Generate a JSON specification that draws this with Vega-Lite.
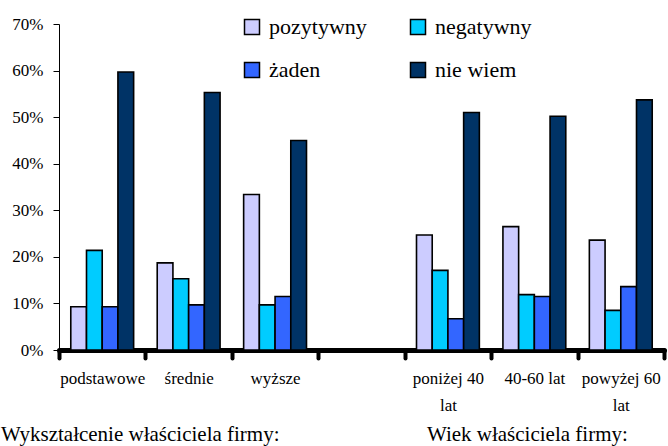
{
  "$schema": "https://vega.github.io/schema/vega-lite/v6.json",
  "width": 605,
  "height": 326,
  "autosize": {"type": "none"},
  "padding": {"left": 59, "top": 24, "right": 4, "bottom": 96},
  "background": "white",
  "config": {
    "view": {"stroke": null},
    "font": "Liberation Serif",
    "axis": {"labelFont": "Liberation Serif"},
    "legend": {"labelFont": "Liberation Serif"},
    "text": {"font": "Liberation Serif"}
  },
  "datasets": {
    "bars": [
      {"kategoria": "podstawowe", "odpowiedz": "pozytywny", "wartosc": 0.093},
      {"kategoria": "podstawowe", "odpowiedz": "negatywny", "wartosc": 0.214},
      {"kategoria": "podstawowe", "odpowiedz": "żaden", "wartosc": 0.093},
      {"kategoria": "podstawowe", "odpowiedz": "nie wiem", "wartosc": 0.597},
      {"kategoria": "średnie", "odpowiedz": "pozytywny", "wartosc": 0.187},
      {"kategoria": "średnie", "odpowiedz": "negatywny", "wartosc": 0.153},
      {"kategoria": "średnie", "odpowiedz": "żaden", "wartosc": 0.097},
      {"kategoria": "średnie", "odpowiedz": "nie wiem", "wartosc": 0.553},
      {"kategoria": "wyższe", "odpowiedz": "pozytywny", "wartosc": 0.334},
      {"kategoria": "wyższe", "odpowiedz": "negatywny", "wartosc": 0.097},
      {"kategoria": "wyższe", "odpowiedz": "żaden", "wartosc": 0.115},
      {"kategoria": "wyższe", "odpowiedz": "nie wiem", "wartosc": 0.45},
      {"kategoria": "poniżej 40 lat", "odpowiedz": "pozytywny", "wartosc": 0.247},
      {"kategoria": "poniżej 40 lat", "odpowiedz": "negatywny", "wartosc": 0.171},
      {"kategoria": "poniżej 40 lat", "odpowiedz": "żaden", "wartosc": 0.067},
      {"kategoria": "poniżej 40 lat", "odpowiedz": "nie wiem", "wartosc": 0.51},
      {"kategoria": "40-60 lat", "odpowiedz": "pozytywny", "wartosc": 0.265},
      {"kategoria": "40-60 lat", "odpowiedz": "negatywny", "wartosc": 0.119},
      {"kategoria": "40-60 lat", "odpowiedz": "żaden", "wartosc": 0.115},
      {"kategoria": "40-60 lat", "odpowiedz": "nie wiem", "wartosc": 0.502},
      {"kategoria": "powyżej 60 lat", "odpowiedz": "pozytywny", "wartosc": 0.236},
      {"kategoria": "powyżej 60 lat", "odpowiedz": "negatywny", "wartosc": 0.085},
      {"kategoria": "powyżej 60 lat", "odpowiedz": "żaden", "wartosc": 0.136},
      {"kategoria": "powyżej 60 lat", "odpowiedz": "nie wiem", "wartosc": 0.537}
    ],
    "title1": [{"kategoria": "podstawowe", "tytul": "Wykształcenie właściciela firmy:"}],
    "title2": [{"kategoria": "40-60 lat", "tytul": "Wiek właściciela firmy:"}]
  },
  "layer": [
    {
      "data": {"name": "bars"},
      "mark": {"type": "bar", "stroke": "black", "strokeWidth": 1.6},
      "encoding": {
        "x": {
          "field": "kategoria",
          "type": "nominal",
          "sort": null,
          "scale": {
            "domain": ["podstawowe", "średnie", "wyższe", "-", "poniżej 40 lat", "40-60 lat", "powyżej 60 lat"],
            "paddingInner": 0,
            "paddingOuter": 0
          },
          "axis": {
            "title": null,
            "tickBand": "extent",
            "domainColor": "black",
            "domainWidth": 5,
            "domainCap": "round",
            "tickColor": "black",
            "tickWidth": 4,
            "tickSize": 8,
            "tickCap": "round",
            "labelFont": "Liberation Serif",
            "labelFontSize": 17,
            "labelColor": "black",
            "labelPadding": 12,
            "labelLineHeight": 27,
            "labelAngle": 0,
            "labelLimit": 0,
            "labelOverlap": false,
            "labelExpr": "datum.value == 'poniżej 40 lat' ? ['poniżej 40', 'lat'] : datum.value == 'powyżej 60 lat' ? ['powyżej 60', 'lat'] : datum.value == '-' ? '' : datum.value"
          }
        },
        "xOffset": {
          "field": "odpowiedz",
          "type": "nominal",
          "sort": null,
          "scale": {"domain": ["pozytywny", "negatywny", "żaden", "nie wiem"], "paddingInner": 0, "paddingOuter": 0.75}
        },
        "y": {
          "field": "wartosc",
          "type": "quantitative",
          "scale": {"domain": [0, 0.7]},
          "axis": {
            "title": null,
            "format": ".0%",
            "values": [0, 0.1, 0.2, 0.3, 0.4, 0.5, 0.6, 0.7],
            "grid": false,
            "domainColor": "black",
            "domainWidth": 1,
            "tickColor": "black",
            "tickSize": 6,
            "labelFont": "Liberation Serif",
            "labelFontSize": 17,
            "labelColor": "black",
            "labelPadding": 10
          }
        },
        "color": {
          "field": "odpowiedz",
          "type": "nominal",
          "scale": {
            "domain": ["pozytywny", "negatywny", "żaden", "nie wiem"],
            "range": ["#CCCCFF", "#00CCFF", "#3366FF", "#003366"]
          },
          "legend": {
            "title": null,
            "orient": "none",
            "legendX": 182,
            "legendY": -8,
            "direction": "horizontal",
            "columns": 2,
            "columnPadding": 40,
            "rowPadding": 21,
            "padding": 0,
            "symbolType": "square",
            "symbolSize": 225,
            "symbolStrokeColor": "black",
            "symbolStrokeWidth": 1.5,
            "symbolOpacity": 1,
            "labelFont": "Liberation Serif",
            "labelFontSize": 22,
            "labelColor": "black",
            "labelOffset": 6
          }
        }
      }
    },
    {
      "data": {"name": "title1"},
      "mark": {"type": "text", "font": "Liberation Serif", "fontSize": 21, "baseline": "alphabetic", "align": "center", "dx": 38, "color": "black"},
      "encoding": {
        "x": {"field": "kategoria", "type": "nominal"},
        "y": {"datum": -0.195, "type": "quantitative"},
        "text": {"field": "tytul"}
      }
    },
    {
      "data": {"name": "title2"},
      "mark": {"type": "text", "font": "Liberation Serif", "fontSize": 21, "baseline": "alphabetic", "align": "center", "dx": -7, "color": "black"},
      "encoding": {
        "x": {"field": "kategoria", "type": "nominal"},
        "y": {"datum": -0.195, "type": "quantitative"},
        "text": {"field": "tytul"}
      }
    }
  ]
}
